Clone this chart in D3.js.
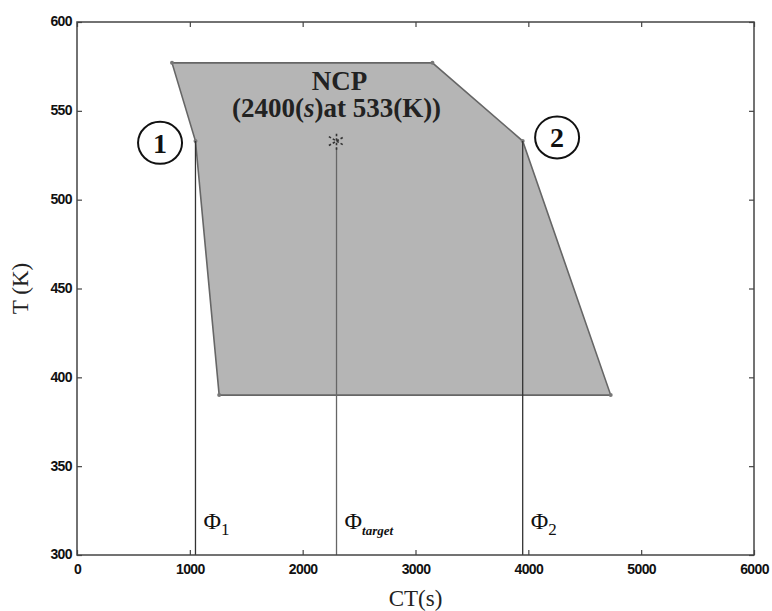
<!DOCTYPE html>
<html>
<head>
<meta charset="utf-8">
<script src="https://cdn.jsdelivr.net/npm/d3@7"></script>
<style>
  body { margin: 0; background: #fff; }
</style>
</head>
<body>
<script>
// region corners (CT in s, T in K)
const regionCT = [842, 3150, 3950, 4730, 1260, 1050];
const regionT = [577, 577, 533, 390, 390, 533];

// vertical phi lines
const phiCT = [1050, 2300, 3950];
const phiTopT = [533, 533, 533];
const phiSub = ["1", "target", "2"];

// nominal point
const ncpCT = 2300;
const ncpT = 533;

// circled corner labels
const markCT = [736, 4255];
const markT = [532, 535];
const markText = ["1", "2"];

const xTicks = [0, 1000, 2000, 3000, 4000, 5000, 6000];
const yTicks = [300, 350, 400, 450, 500, 550, 600];

const w = 772, h = 611;
const plotLeft = 77, plotRight = 754, plotTop = 22, plotBottom = 555;

const x = d3.scaleLinear().domain([0, 6000]).range([plotLeft, plotRight]);
const y = d3.scaleLinear().domain([300, 600]).range([plotBottom, plotTop]);

const svg = d3.select("body").append("svg")
    .attr("width", w)
    .attr("height", h);

// shaded region
const pts = regionCT.map((c, i) => [x(c), y(regionT[i])]);
svg.append("polygon")
    .attr("points", pts.map(p => p.join(",")).join(" "))
    .attr("fill", "#b5b5b5")
    .attr("stroke", "#666")
    .attr("stroke-width", 1.6);

svg.selectAll(".corner")
    .data(pts)
    .enter()
    .append("circle")
    .attr("cx", d => d[0])
    .attr("cy", d => d[1])
    .attr("r", 2)
    .attr("fill", "#777");

// phi lines
svg.selectAll(".phi")
    .data(phiCT)
    .enter()
    .append("line")
    .attr("x1", d => x(d))
    .attr("x2", d => x(d))
    .attr("y1", (d, i) => y(phiTopT[i]) + (i == 1 ? 7 : 0))
    .attr("y2", y(300))
    .attr("stroke", (d, i) => i == 1 ? "#666" : "#333")
    .attr("stroke-width", 1.3);

// phi labels
const phiLab = svg.selectAll(".philab")
    .data(phiCT)
    .enter()
    .append("text")
    .attr("x", d => x(d) + 8)
    .attr("y", 529)
    .style("font-family", "Liberation Serif, serif")
    .style("font-size", "24px")
    .attr("fill", "#111");
phiLab.append("tspan").text("Φ");
phiLab.append("tspan")
    .attr("dy", 6)
    .style("font-size", (d, i) => i == 1 ? "13px" : "17px")
    .style("font-style", (d, i) => i == 1 ? "italic" : "normal")
    .style("font-weight", (d, i) => i == 1 ? "bold" : "normal")
    .text((d, i) => phiSub[i]);

// NCP star
svg.append("path")
    .attr("d", d3.symbol().type(d3.symbolAsterisk).size(220)())
    .attr("transform", `translate(${x(ncpCT)},${y(ncpT)})`)
    .attr("fill", "none")
    .attr("stroke", "#333")
    .attr("stroke-width", 1.6)
    .attr("stroke-dasharray", "2.5,2");

svg.append("text")
    .attr("x", x(ncpCT) + 3)
    .attr("y", 90)
    .attr("text-anchor", "middle")
    .style("font-family", "Liberation Serif, serif")
    .style("font-weight", "bold")
    .style("font-size", "27px")
    .attr("fill", "#222")
    .text("NCP");

const ncpLab = svg.append("text")
    .attr("x", x(ncpCT))
    .attr("y", 117)
    .attr("text-anchor", "middle")
    .style("font-family", "Liberation Serif, serif")
    .style("font-weight", "bold")
    .style("font-size", "27px")
    .attr("fill", "#222");
ncpLab.append("tspan").text("(2400(");
ncpLab.append("tspan").style("font-style", "italic").text("s");
ncpLab.append("tspan").text(")at 533(K))");

// circled numbers
const marks = svg.selectAll(".mark")
    .data(markText)
    .enter()
    .append("g")
    .attr("transform", (d, i) => `translate(${x(markCT[i])},${y(markT[i])})`);
marks.append("ellipse")
    .attr("rx", 22)
    .attr("ry", 21)
    .attr("fill", "#fff")
    .attr("stroke", "#111")
    .attr("stroke-width", 2);
marks.append("text")
    .attr("text-anchor", "middle")
    .attr("y", 10)
    .style("font-family", "Liberation Serif, serif")
    .style("font-weight", "bold")
    .style("font-size", "28px")
    .attr("fill", "#111")
    .text(d => d);

// frame
svg.append("rect")
    .attr("x", plotLeft)
    .attr("y", plotTop)
    .attr("width", plotRight - plotLeft)
    .attr("height", plotBottom - plotTop)
    .attr("fill", "none")
    .attr("stroke", "#444")
    .attr("stroke-width", 1.5);

// axes
const xAxis = d3.axisBottom(x).tickValues(xTicks).tickFormat(d3.format("d"))
    .tickSizeInner(-5).tickSizeOuter(0).tickPadding(9);
const yAxis = d3.axisLeft(y).tickValues(yTicks).tickFormat(d3.format("d"))
    .tickSizeInner(-5).tickSizeOuter(0).tickPadding(5);

const gx = svg.append("g")
    .attr("transform", `translate(0,${plotBottom})`)
    .call(xAxis);
const gy = svg.append("g")
    .attr("transform", `translate(${plotLeft},0)`)
    .call(yAxis);

svg.append("g")
    .attr("transform", `translate(0,${plotTop})`)
    .call(d3.axisTop(x).tickValues(xTicks).tickSizeInner(-5).tickSizeOuter(0).tickFormat(""));
svg.append("g")
    .attr("transform", `translate(${plotRight},0)`)
    .call(d3.axisRight(y).tickValues(yTicks).tickSizeInner(-5).tickSizeOuter(0).tickFormat(""));

svg.selectAll(".domain").remove();
svg.selectAll(".tick line").attr("stroke", "#444").attr("stroke-width", 1.2);

[gx, gy].forEach(g => g.selectAll("text")
    .style("font-family", "Liberation Sans, Arial, sans-serif")
    .style("font-weight", "bold")
    .style("font-size", "14px")
    .style("letter-spacing", "-0.6px")
    .attr("fill", "#111"));
gy.selectAll("text").attr("dy", "0.28em");

// axis titles
svg.append("text")
    .attr("x", x(3000))
    .attr("y", 606)
    .attr("text-anchor", "middle")
    .style("font-family", "Liberation Serif, serif")
    .style("font-size", "23px")
    .attr("fill", "#222")
    .text("CT(s)");

svg.append("text")
    .attr("transform", `translate(28,${y(450)}) rotate(-90)`)
    .attr("text-anchor", "middle")
    .style("font-family", "Liberation Serif, serif")
    .style("font-size", "23px")
    .attr("fill", "#222")
    .text("T (K)");
</script>
</body>
</html>
